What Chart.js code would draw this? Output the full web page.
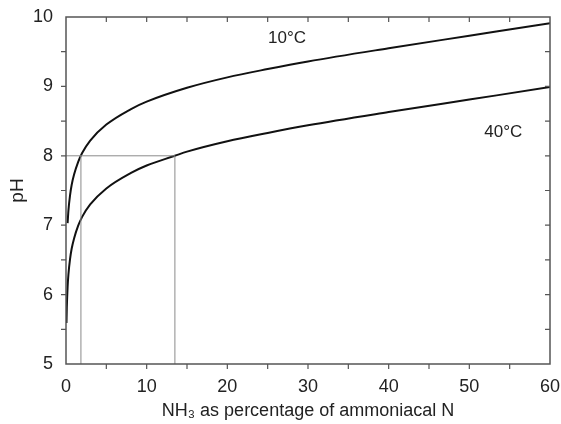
<!DOCTYPE html>
<html>
<head>
<meta charset="utf-8">
<script src="https://cdn.jsdelivr.net/npm/chart.js@4"></script>
<style>
  html,body{margin:0;padding:0;background:#fff;}
  #wrap{width:561px;height:424px;}
</style>
</head>
<body>
<div id="wrap"><canvas id="c" width="561" height="424"></canvas></div>
<script>
// values
const x10 = [0.2, 0.3, 0.5, 0.7, 1, 1.5, 2, 3, 5, 8, 10, 15, 20, 25, 30, 40, 50, 60];
const ph10 = [7.03, 7.21, 7.43, 7.58, 7.73, 7.91, 8.04, 8.22, 8.45, 8.67, 8.78, 8.98, 9.13, 9.25, 9.36, 9.55, 9.73, 9.91];
const x40 = [0.06, 0.1, 0.2, 0.3, 0.5, 0.7, 1, 1.5, 2, 3, 5, 8, 10, 13.5, 15, 20, 25, 30, 40, 50, 60];
const ph40 = [5.59, 5.81, 6.11, 6.29, 6.51, 6.66, 6.81, 6.99, 7.12, 7.30, 7.53, 7.75, 7.86, 8.00, 8.06, 8.21, 8.33, 8.44, 8.63, 8.81, 8.99];
// guide lines at pH 8
const guidePH = 8;
const guideX = [1.85, 13.5];
const curveLabels = [{t:'10°C', x:27.4, y:9.70}, {t:'40°C', x:54.2, y:8.34}];
const xTicks = [0, 10, 20, 30, 40, 50, 60];
const yTicks = [5, 6, 7, 8, 9, 10];

const pts = (xs, ys) => xs.map((x, i) => ({x, y: ys[i]}));
const FONT = "'Liberation Sans', Arial, sans-serif";
const guide = {borderColor:'#8a8a8a', borderWidth:1, pointRadius:0, fill:false, tension:0};

const datasets = [
  {...guide, data:[{x:0, y:guidePH}, {x:guideX[1], y:guidePH}]},
  ...guideX.map(g => ({...guide, data:[{x:g, y:5}, {x:g, y:guidePH}]})),
  {data:pts(x10, ph10), borderColor:'#111', borderWidth:2, pointRadius:0, fill:false, cubicInterpolationMode:'monotone'},
  {data:pts(x40, ph40), borderColor:'#111', borderWidth:2, pointRadius:0, fill:false, cubicInterpolationMode:'monotone'}
];

// frame, tick marks and curve labels
const framePlugin = {
  id:'frame',
  afterDraw(chart){
    const {ctx, chartArea:a, scales:{x, y}} = chart;
    ctx.save();
    ctx.strokeStyle = '#555'; ctx.lineWidth = 1.5;
    ctx.strokeRect(a.left, a.top, a.right - a.left, a.bottom - a.top);
    ctx.lineWidth = 1.2;
    ctx.beginPath();
    for (let v = 5; v < 60; v += 5) {
      const px = x.getPixelForValue(v);
      ctx.moveTo(px, a.bottom); ctx.lineTo(px, a.bottom + 5);
      ctx.moveTo(px, a.top); ctx.lineTo(px, a.top + 5);
    }
    for (let v = 5.5; v < 10; v += 0.5) {
      const py = y.getPixelForValue(v);
      ctx.moveTo(a.left - 5, py); ctx.lineTo(a.left, py);
      ctx.moveTo(a.right - 5, py); ctx.lineTo(a.right, py);
    }
    ctx.stroke();
    ctx.fillStyle = '#222';
    ctx.font = '17px ' + FONT;
    ctx.textAlign = 'center'; ctx.textBaseline = 'middle';
    curveLabels.forEach(l => ctx.fillText(l.t, x.getPixelForValue(l.x), y.getPixelForValue(l.y)));
    ctx.restore();
  }
};

new Chart(document.getElementById('c'), {
  type:'line',
  data:{datasets},
  plugins:[framePlugin],
  options:{
    responsive:false,
    animation:false,
    layout:{padding:{left:0, right:11, top:17, bottom:0}},
    plugins:{legend:{display:false}, tooltip:{enabled:false}},
    scales:{
      x:{
        type:'linear', min:0, max:60,
        afterBuildTicks: s => { s.ticks = xTicks.map(v => ({value:v})); },
        afterFit: s => { s.height = 60; s.paddingLeft = 0; s.paddingRight = 0; },
        grid:{display:false}, border:{display:false},
        ticks:{color:'#222', font:{family:FONT, size:18}, padding:4, maxRotation:0},
        title:{display:true, text:'NH₃ as percentage of ammoniacal N', color:'#222', font:{family:FONT, size:18}, padding:{top:0, bottom:2}}
      },
      y:{
        min:5, max:10,
        afterBuildTicks: s => { s.ticks = yTicks.map(v => ({value:v})); },
        afterFit: s => { s.width = 66; s.paddingTop = 0; s.paddingBottom = 0; },
        grid:{display:false}, border:{display:false},
        ticks:{color:'#222', font:{family:FONT, size:18}, padding:5},
        title:{display:true, text:'pH', color:'#222', font:{family:FONT, size:19}, padding:{top:6, bottom:0}}
      }
    }
  }
});
</script>
</body>
</html>
